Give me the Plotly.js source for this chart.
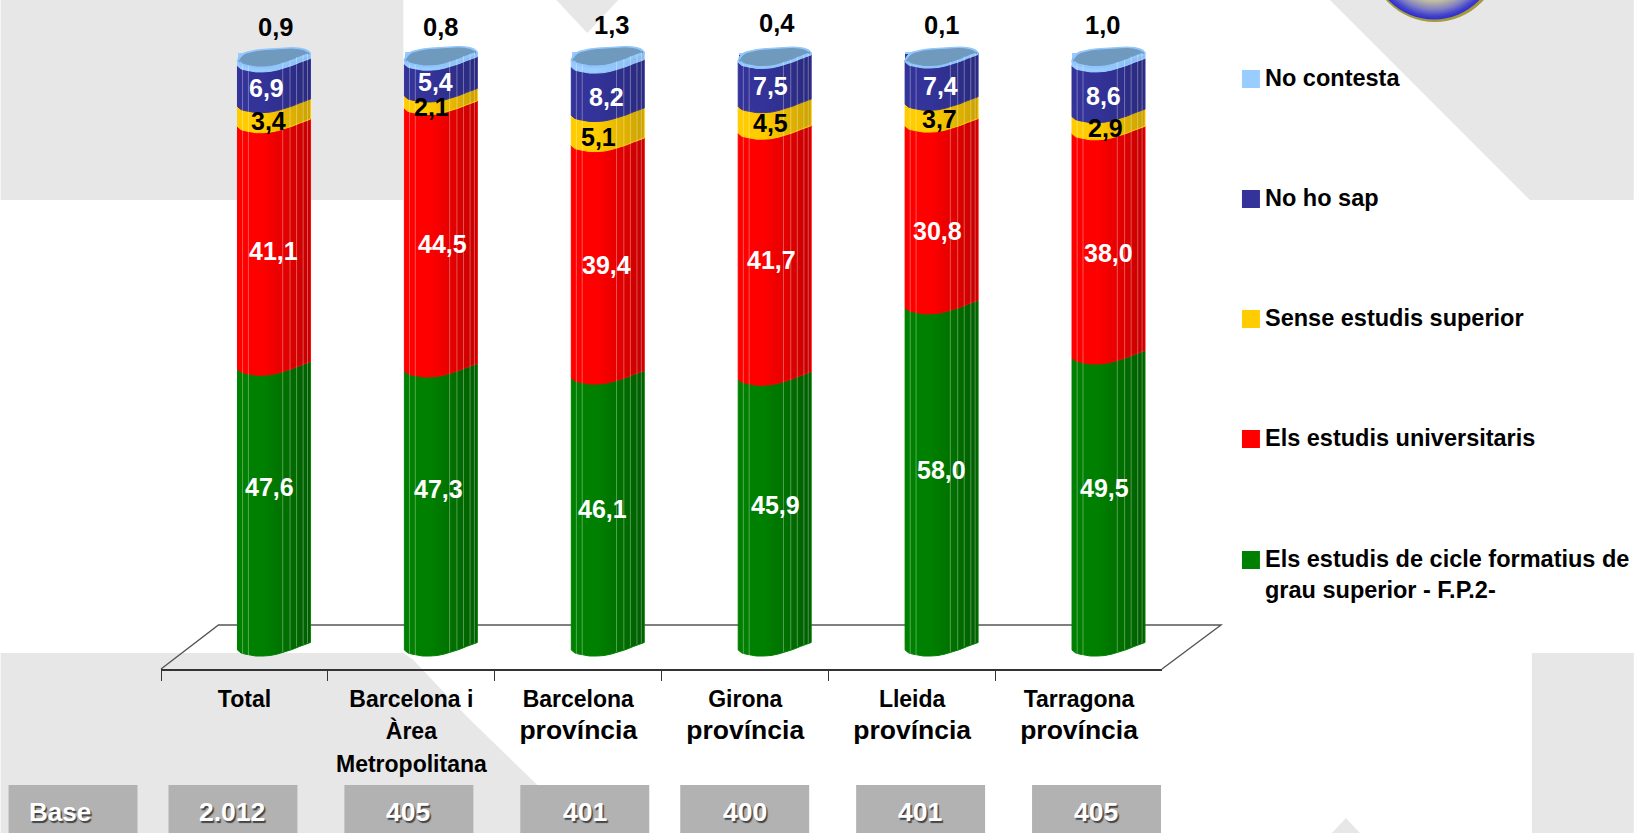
<!DOCTYPE html>
<html><head><meta charset="utf-8">
<script src="https://cdn.plot.ly/plotly-3.0.1.min.js"></script>
<style>html,body{margin:0;padding:0;background:#fff;overflow:hidden}#c{width:1634px;height:833px}</style>
</head><body><div id="c"></div>
<script>
// ---- data ----
const categories = ['Total','Barcelona i Àrea Metropolitana','Barcelona província','Girona província','Lleida província','Tarragona província'];
const tickLabelLines = [['Total'],['Barcelona i','Àrea','Metropolitana'],['Barcelona','província'],['Girona','província'],['Lleida','província'],['Tarragona','província']];
const fp2       = [47.6,47.3,46.1,45.9,58.0,49.5];
const univ      = [41.1,44.5,39.4,41.7,30.8,38.0];
const sense     = [3.4,2.1,5.1,4.5,3.7,2.9];
const noSap     = [6.9,5.4,8.2,7.5,7.4,8.6];
const noContesta= [0.9,0.8,1.3,0.4,0.1,1.0];
const baseLabels = ['2.012','405','401','400','401','405'];
const seriesNames = ['Els estudis de cicle formatius de<br>grau superior - F.P.2-','Els estudis universitaris','Sense estudis superior','No ho sap','No contesta'];

// ---- styling and layout ----
const LIFT=7.5; // the stacked values sit on the right-hand rim of each cylinder
const W=1634,H=833,L=160.5,R=1162,T=0,B=669,Y0=650-LIFT,UNIT=5.9,CX0=273.5,STEP=167;
const BARW=73/STEP;
const FONT='"Liberation Sans", Arial, sans-serif';
const colors=['#008000','#FF0000','#FFCC00','#333399','#99CCFF'];
const darks =['#005E00','#C40000','#C9A000','#2A2A7E','#88BAEC'];
const textColors=['#fff','#fff','#000','#fff','#000'];
const GREY='#E7E7E7';
const series=[fp2,univ,sense,noSap,noContesta];
// hand-placed label nudges of the original, in pixels [dx,dy up]
const nudges=[
 [[-4,23],[-2,21],[-5,5.5],[1,10],[0,9],[-4,16]],
 [[0,-3],[2,-4],[-1,-3],[-3,-4],[-4,-14],[0,-7]],
 [[-5,-4],[-9,-5],[-9,-6],[-4,-3],[-2,-4],[-3,-3]],
 [[-7,-2],[-5,-2],[-1,-5.6],[-4,-2],[-1,-4],[-5,-4.6]],
 [[2,36],[0,35],[4,38],[2,38],[0,35],[-6,38]]
];
// cylinder outline profile: across the bar (t), offset downward in px from the rim level
const profT=[0,.02,.05,.1,.17,.25,.35,.45,.55,.65,.75,.85,.92,.97,1];
const profF=[0,1.5,3,4,5.2,6,6,5.5,4,2,-.5,-3.5,-5.5,-7,-7.5].map(d=>d+LIFT);
const profB=[0,-3.5,-6,-8,-9.5,-10.5,-11.3,-11.5,-12,-12.7,-13,-12.5,-11.5,-10,-7.5].map(d=>d+LIFT);
const stripes=[.07,.15,.62,.72,.81,.9,.96];
const px=x=>(x-L)/(R-L), py=y=>(B-y)/(B-T);
const xOf=(i,t)=>i+(t-.5)*BARW;
const poly=pts=>({type:'path',xref:'paper',yref:'paper',layer:'below',line:{width:0},fillcolor:GREY,
  path:'M'+pts.map(p=>px(p[0])+','+py(p[1])).join('L')+'Z'});
const rectPx=(x0,y0,x1,y1,c)=>({type:'rect',xref:'paper',yref:'paper',layer:'below',x0:px(x0),x1:px(x1),y0:py(y1),y1:py(y0),fillcolor:c,line:{width:0}});

const xs=categories.map((_,i)=>i);
const traces=[];
// the stacked bars themselves
series.forEach((v,s)=>traces.push({type:'bar',x:xs,y:v,name:seriesNames[s].replace('<br>',' '),width:BARW*.99,
  marker:{color:colors[s],line:{width:0}},hoverinfo:'y+name',showlegend:false}));
// cylinder skin over the bars, following the same stacked values
const cum=categories.map((_,i)=>{let a=[0];series.forEach(v=>a.push(a[a.length-1]+v[i]));return a;});
categories.forEach((_,i)=>{
  series.forEach((v,s)=>{
    const lo=cum[i][s],hi=cum[i][s+1];
    const xx=[],yy=[];
    profT.forEach((t,k)=>{xx.push(xOf(i,t));yy.push(lo-profF[k]/UNIT);});
    for(let k=profT.length-1;k>=0;k--){xx.push(xOf(i,profT[k]));yy.push(hi-profF[k]/UNIT);}
    xx.push(xx[0]);yy.push(yy[0]);
    traces.push({type:'scatter',mode:'lines',x:xx,y:yy,fill:'toself',showlegend:false,hoverinfo:'skip',
      line:{color:colors[s],width:1},
      fillgradient:{type:'horizontal',colorscale:[[0,colors[s]],[.35,colors[s]],[1,darks[s]]]}});
  });
  // mouth of the cylinder
  const top=cum[i][5];
  const mk=(scale,fo,bo,fill,lc)=>{
    const xx=[],yy=[];
    profT.forEach((t,k)=>{xx.push(i+(t-.5)*BARW*scale);yy.push(top-(profF[k]+fo)/UNIT);});
    for(let k=profT.length-1;k>=0;k--){xx.push(i+(profT[k]-.5)*BARW*scale);yy.push(top-(profB[k]+bo)/UNIT);}
    xx.push(xx[0]);yy.push(yy[0]);
    return {type:'scatter',mode:'lines',x:xx,y:yy,fill:'toself',fillcolor:fill,line:{color:lc,width:1},showlegend:false,hoverinfo:'skip'};
  };
  traces.push(mk(1,2,0,'#90C6FB','#90C6FB'));
  traces.push(mk(.95,-.5,1.5,'#7099BE','#7099BE'));
});
// pale facet lines of the cylinders
{const xx=[],yy=[];
 categories.forEach((_,i)=>stripes.forEach(t=>{
   const k=profT.findIndex(p=>p>=t);
   const off=profF[k];
   xx.push(xOf(i,t),xOf(i,t),null);
   yy.push(-off/UNIT,cum[i][5]-off/UNIT,null);
 }));
 traces.push({type:'scatter',mode:'lines',x:xx,y:yy,line:{color:'rgba(255,255,255,.33)',width:1},showlegend:false,hoverinfo:'skip'});
}

// ---- background & decoration ----
const shapes=[
  rectPx(0,0,403,200,GREY),
  poly([[556,0],[618,0],[587,33]]),
  poly([[1330,0],[1530,200],[1634,200],[1634,0]]),
  poly([[0,653],[403,653],[413,660],[467,717],[537,785],[537,833],[0,833]]),
  rectPx(1532,653,1634,833,GREY),
  poly([[1332,833],[1346,818],[1360,833]]),
  // floor
  {type:'path',xref:'paper',yref:'paper',layer:'below',line:{color:'#555',width:1.4},
   path:`M${px(160.5)},${py(669)}L${px(218)},${py(625)}L${px(1221)},${py(625)}L${px(1162)},${py(669)}`}
];
// logo sphere
const circ=(cx,cy,r,c)=>({type:'circle',xref:'paper',yref:'paper',layer:'below',x0:px(cx-r),x1:px(cx+r),y0:py(cy+r),y1:py(cy-r),fillcolor:c,line:{width:0}});
shapes.push(circ(1435,-43.5,65.5,'#A39C3E'));
const ringStops=[[63,[50,50,205]],[60,[66,66,205]],[53.5,[128,128,196]],[48,[170,168,172]],[43.5,[207,203,154]],[38,[216,212,150]]];
for(let r=63;r>=38;r-=1){
  let k=0;while(k<ringStops.length-2&&r<=ringStops[k+1][0])k++;
  const a=ringStops[k],b=ringStops[k+1],f=(a[0]-r)/(a[0]-b[0]);
  const c=a[1].map((v,n)=>Math.round(v+(b[1][n]-v)*f));
  shapes.push(circ(1434,-43.5,r,`rgb(${c})`));
}
// base table
const baseX=[168,344,520,680,856,1032],baseTextX=[232,408,585,745,920,1096];
shapes.push(rectPx(8,785,137,833,'#B2B2B2'));
baseX.forEach(x=>shapes.push(rectPx(x,785,x+129,833,'#B2B2B2')));
// legend swatches
const legendY=[560,439,319,199,79];
legendY.forEach((y,s)=>shapes.push(rectPx(1242,y-9,1260,y+9,colors[s])));

// ---- texts ----
const fmt=v=>v.toFixed(1).replace('.',',');
const ann=[];
series.forEach((v,s)=>v.forEach((val,i)=>{
  ann.push({xref:'x',yref:'y',x:i,y:(cum[i][s]+cum[i][s+1])/2,xanchor:'center',yanchor:'middle',xshift:nudges[s][i][0],yshift:nudges[s][i][1]-LIFT,
    text:fmt(val),showarrow:false,font:{family:FONT,size:s==4?25.5:25,color:textColors[s],weight:'bold'}});
}));
seriesNames.forEach((n,s)=>ann.push({xref:'paper',yref:'paper',x:px(1263),y:py(legendY[s]-16),xanchor:'left',yanchor:'top',align:'left',
   text:n,showarrow:false,font:{family:FONT,size:23.5,color:'#000',weight:'bold'}}));
const shadow='1.5px 1.5px 1px #444';
ann.push({xref:'paper',yref:'paper',x:px(59),y:py(812),xanchor:'center',yanchor:'middle',text:'Base',showarrow:false,font:{family:FONT,size:26,color:'#fff',weight:'bold',shadow}});
baseLabels.forEach((t,i)=>ann.push({xref:'paper',yref:'paper',x:px(baseTextX[i]),y:py(812),xanchor:'center',yanchor:'middle',text:t,showarrow:false,
   font:{family:FONT,size:26.5,color:'#fff',weight:'bold',shadow}}));

const tickText=tickLabelLines.map(lines=>lines.map(l=>
  `<span style="font-size:${l==='província'?26.5:23}px">${l}</span>`).join('<br>'));
const cellCentres=xs.map(i=>i-(CX0-(L+STEP/2))/STEP);
const cellEdges=[0,1,2,3,4,5,6].map(i=>(L+i*STEP-CX0)/STEP);

Plotly.newPlot('c',traces,{
  width:W,height:H,autosize:false,showlegend:false,
  margin:{l:L,r:W-R,t:T,b:H-B,pad:0},
  paper_bgcolor:'#fff',plot_bgcolor:'rgba(0,0,0,0)',
  barmode:'stack',
  xaxis:{type:'linear',range:[(L-CX0)/STEP,(R-CX0)/STEP],showgrid:false,zeroline:false,showline:true,linecolor:'#333',linewidth:1.6,
    tickmode:'array',tickvals:cellCentres,ticktext:tickText,ticks:'',ticklabelstandoff:6,tickangle:0,
    tickfont:{family:FONT,size:25,color:'#000',weight:'bold'},
    minor:{tickmode:'array',tickvals:cellEdges,ticks:'outside',ticklen:10,tickwidth:1,tickcolor:'#333',showgrid:false}},
  yaxis:{visible:false,range:[(Y0-B)/UNIT,(Y0-T)/UNIT],fixedrange:true},
  shapes,annotations:ann,
  hovermode:'closest'
},{staticPlot:false,displayModeBar:false,responsive:false});
</script></body></html>
